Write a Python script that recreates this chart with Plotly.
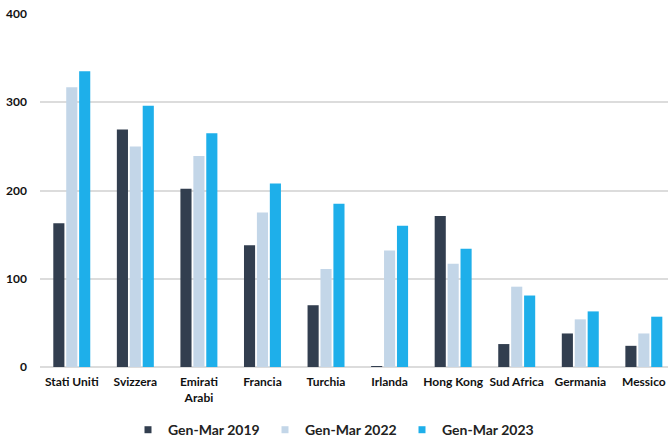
import plotly.graph_objects as go

categories = ["Stati Uniti", "Svizzera", "Emirati<br>Arabi", "Francia", "Turchia",
              "Irlanda", "Hong Kong", "Sud Africa", "Germania", "Messico"]
series_names = ["Gen-Mar 2019", "Gen-Mar 2022", "Gen-Mar 2023"]
values_2019 = [163, 269, 202, 138, 70, 1, 171, 26, 38, 24]
values_2022 = [317, 250, 239, 175, 111, 132, 117, 91, 54, 38]
values_2023 = [335, 296, 265, 208, 185, 160, 134, 81, 63, 57]
y_ticks = [0, 100, 200, 300, 400]

colors = ["#323E4F", "#C3D6E8", "#1EAFEA"]
series = [values_2019, values_2022, values_2023]

fig = go.Figure()
for name, vals, col in zip(series_names, series, colors):
    fig.add_trace(go.Bar(x=categories, y=vals, name=name, marker_color=col,
                         marker_line_width=0, showlegend=False, legendgroup=name))
# legend entries with small square markers
for name, col in zip(series_names, colors):
    fig.add_trace(go.Scatter(x=[None], y=[None], mode="markers", name=name,
                             legendgroup=name,
                             marker=dict(symbol="square", size=7, color=col)))

font_family = "Lato, Open Sans, sans-serif"
fig.update_layout(
    width=668, height=438,
    margin=dict(l=40, r=0, t=14, b=71),
    paper_bgcolor="white", plot_bgcolor="white",
    barmode="group", bargap=0.39, bargroupgap=0.14,
    font=dict(family=font_family, color="#222222"),
    showlegend=True,
    legend=dict(orientation="h", xref="container", yref="container",
                x=128 / 668, xanchor="left", y=0.018, yanchor="middle",
                font=dict(size=14, family=font_family, color="#222222", weight="bold"),
                itemwidth=30, traceorder="normal", entrywidth=92),
    xaxis=dict(range=[-0.5, 9.38], showgrid=False, showline=False, zeroline=False,
               tickfont=dict(size=12, family=font_family, color="#111111", weight="bold"),
               ticks="", tickangle=0, ticklabelstandoff=6),
    yaxis=dict(range=[0, 400], tickvals=y_ticks, showgrid=True, gridcolor="#DCDCDC",
               gridwidth=1.5, zeroline=True, zerolinecolor="#DCDCDC", zerolinewidth=1.5,
               showline=False, ticks="", ticklabelstandoff=12,
               tickfont=dict(size=12, family=font_family, color="#111111", weight="bold")),
)

fig.write_html("out.html")
